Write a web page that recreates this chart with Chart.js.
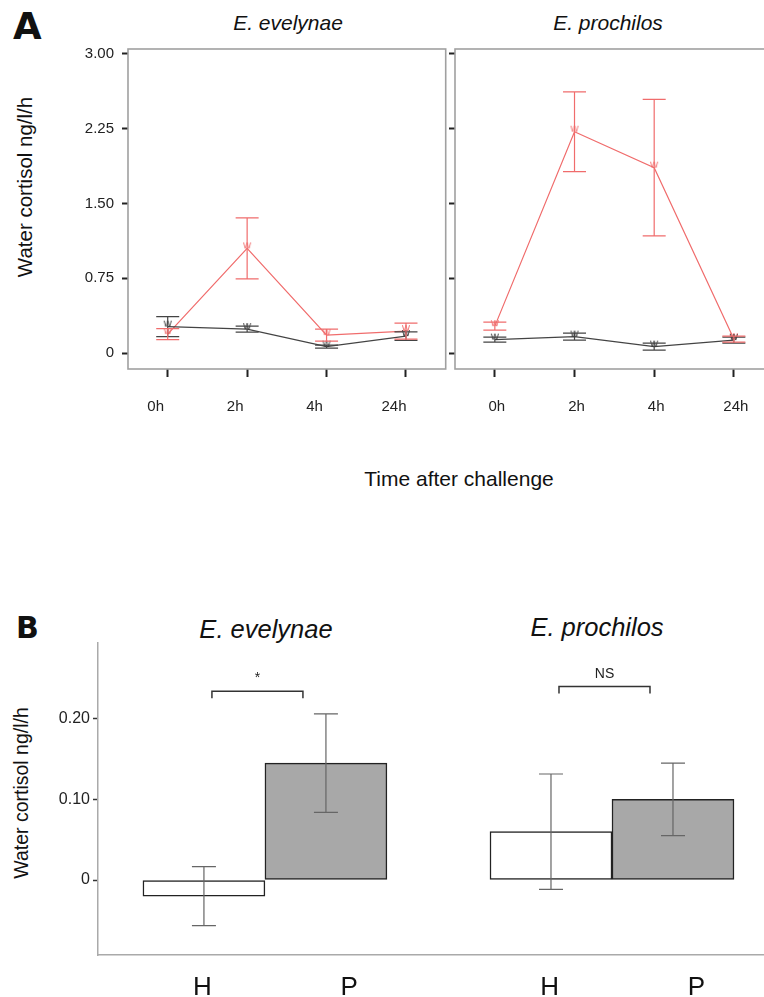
<!DOCTYPE html>
<html>
<head>
<meta charset="utf-8">
<script src="https://cdn.jsdelivr.net/npm/chart.js@4.4.0/dist/chart.umd.min.js"></script>
<style>
  body { margin: 0; width: 764px; height: 997px; overflow: hidden; background: #fff; position: relative;
         font-family: "Liberation Sans", Arial, sans-serif; color: #111; }
  canvas { position: absolute; }
  .txt { position: absolute; white-space: nowrap; line-height: 1; transform: translate(-50%, -50%); }
  .it { font-style: italic; }
  .tag { position: absolute; font-family: "DejaVu Sans", sans-serif; font-weight: bold; line-height: 1; }
</style>
</head>
<body>
<div class="tag" style="left:13px;top:8px;font-size:37px;">A</div>
<div class="txt it" style="left:288px;top:22px;font-size:21px;">E. evelynae</div>
<div class="txt it" style="left:608px;top:22px;font-size:21px;">E. prochilos</div>
<div class="txt" style="left:25px;top:187px;font-size:20.5px;transform:translate(-50%,-50%) rotate(-90deg);">Water cortisol ng/l/h</div>
<div class="txt" style="left:459px;top:478px;font-size:21px;">Time after challenge</div>

<div class="tag" style="left:16px;top:613px;font-size:30px;">B</div>
<div class="txt it" style="left:266px;top:630px;font-size:25.5px;">E. evelynae</div>
<div class="txt it" style="left:597px;top:628px;font-size:25.5px;">E. prochilos</div>
<div class="txt" style="left:22px;top:793px;font-size:19.5px;transform:translate(-50%,-50%) rotate(-90deg);">Water cortisol ng/l/h</div>

<canvas id="evelynaeTime" width="451" height="430" style="left:0;top:0;"></canvas>
<canvas id="prochilosTime" width="330" height="430" style="left:449px;top:0;"></canvas>
<canvas id="groupBars" width="764" height="397" style="left:0;top:600px;"></canvas>

<script>
// panel A: time course, red = parasitized, black = healthy
const timeLabels = ['0h', '2h', '4h', '24h'];
const timeTicks = [0, 0.75, 1.5, 2.25, 3];

const evelynaeRed = [0.19, 1.05, 0.18, 0.22];
const evelynaeRedErr = [0.055, 0.305, 0.06, 0.08];
const evelynaeBlack = [0.265, 0.24, 0.065, 0.17];
const evelynaeBlackErr = [0.10, 0.03, 0.015, 0.042];

const prochilosRed = [0.27, 2.22, 1.86, 0.14];
const prochilosRedErr = [0.04, 0.40, 0.685, 0.03];
const prochilosBlack = [0.135, 0.165, 0.065, 0.13];
const prochilosBlackErr = [0.025, 0.035, 0.035, 0.03];

// panel B: bars, H = healthy, P = parasitized
const barGroups = [1, 2];
const barLabels = ['H', 'P', 'H', 'P'];
const healthyMean = [-0.020, 0.060];
const healthyErr = [0.0365, 0.0715];
const parasitMean = [0.145, 0.100];
const parasitErr = [0.061, 0.045];
const barTicks = [0, 0.10, 0.20];
const sigLabels = ['*', 'NS'];
const sigHeights = [0.234, 0.240];

Chart.defaults.font.family = '"Liberation Sans", Arial, sans-serif';
Chart.defaults.color = '#222';
Chart.defaults.animation = false;

const RED = 'rgb(240,108,108)';
const DARK = '#444';

function wGlyph(color) {
  const c = document.createElement('canvas');
  c.width = 12; c.height = 14;
  const g = c.getContext('2d');
  g.fillStyle = color;
  g.font = '11px "Liberation Sans", Arial, sans-serif';
  g.textAlign = 'center';
  g.fillText('w', 6, 7);
  return c;
}

function valueOf(d) {
  return (d !== null && typeof d === 'object') ? d.y : d;
}

const errorBars = {
  id: 'errorBars',
  afterDatasetsDraw(chart) {
    const ctx = chart.ctx;
    const y = chart.scales.y;
    chart.data.datasets.forEach((ds, i) => {
      if (!ds.errorBars) return;
      const meta = chart.getDatasetMeta(i);
      const half = ds.capWidth / 2;
      ctx.save();
      ctx.strokeStyle = ds.errorColor || ds.borderColor;
      ctx.lineWidth = 1.2;
      meta.data.forEach((el, j) => {
        const v = valueOf(ds.data[j]);
        const top = y.getPixelForValue(v + ds.errorBars[j]);
        const bot = y.getPixelForValue(v - ds.errorBars[j]);
        ctx.beginPath();
        ctx.moveTo(el.x, top); ctx.lineTo(el.x, bot);
        ctx.moveTo(el.x - half, top); ctx.lineTo(el.x + half, top);
        ctx.moveTo(el.x - half, bot); ctx.lineTo(el.x + half, bot);
        ctx.stroke();
      });
      ctx.restore();
    });
  }
};

const frame = {
  id: 'frame',
  beforeDatasetsDraw(chart) {
    const a = chart.chartArea;
    const ctx = chart.ctx;
    ctx.save();
    ctx.strokeStyle = '#a0a0a0';
    ctx.lineWidth = 1.6;
    ctx.strokeRect(a.left, a.top, a.right - a.left, a.bottom - a.top);
    ctx.restore();
  }
};

function timeChart(id, red, redErr, black, blackErr, showY, axisWidth, labelShift, padRight) {
  return new Chart(document.getElementById(id), {
    type: 'line',
    data: {
      labels: timeLabels,
      datasets: [
        { data: black, errorBars: blackErr, capWidth: 23, borderColor: DARK, borderWidth: 1.3,
          pointStyle: wGlyph('#333'), pointRadius: 3 },
        { data: red, errorBars: redErr, capWidth: 23, borderColor: RED, borderWidth: 1.2,
          pointStyle: wGlyph(RED), pointRadius: 3 },
      ],
    },
    options: {
      responsive: false,
      layout: { padding: { top: 49, right: padRight, left: 0, bottom: 0 } },
      plugins: { legend: { display: false }, tooltip: { enabled: false } },
      scales: {
        x: {
          offset: true,
          grid: { display: true, drawOnChartArea: false, tickLength: 8, tickColor: '#222', tickWidth: 2 },
          border: { display: false },
          ticks: { padding: 21, labelOffset: labelShift, font: { size: 15 }, color: '#222' },
          afterFit(s) { s.height = 61; },
        },
        y: {
          min: -0.16, max: 3.05,
          afterBuildTicks(s) { s.ticks = timeTicks.map((v) => ({ value: v })); },
          grid: { display: true, drawOnChartArea: false, tickLength: 6, tickColor: '#222', tickWidth: 2 },
          border: { display: false },
          ticks: {
            display: showY, padding: 8, font: { size: 15 }, color: '#222',
            callback: (v) => (v === 0 ? '0' : v.toFixed(2)),
          },
          afterFit(s) { s.width = axisWidth; },
        },
      },
    },
    plugins: [frame, errorBars],
  });
}

timeChart('evelynaeTime', evelynaeRed, evelynaeRedErr, evelynaeBlack, evelynaeBlackErr, true, 128, -12, 1);
timeChart('prochilosTime', prochilosRed, prochilosRedErr, prochilosBlack, prochilosBlackErr, false, 6, 2, 3);

const brackets = {
  id: 'brackets',
  afterDatasetsDraw(chart) {
    const ctx = chart.ctx;
    const y = chart.scales.y;
    const hMeta = chart.getDatasetMeta(0);
    const pMeta = chart.getDatasetMeta(1);
    ctx.save();
    ctx.strokeStyle = '#333';
    ctx.lineWidth = 1.5;
    ctx.fillStyle = '#222';
    ctx.font = '14px "Liberation Sans", Arial, sans-serif';
    ctx.textAlign = 'center';
    ctx.textBaseline = 'middle';
    sigLabels.forEach((lab, i) => {
      const x0 = hMeta.data[i].x + 8;
      const x1 = pMeta.data[i].x - 23;
      const yy = y.getPixelForValue(sigHeights[i]);
      ctx.beginPath();
      ctx.moveTo(x0, yy + 7); ctx.lineTo(x0, yy); ctx.lineTo(x1, yy); ctx.lineTo(x1, yy + 7);
      ctx.stroke();
      ctx.fillText(lab, (x0 + x1) / 2, yy - (lab === '*' ? 13 : 12));
    });
    ctx.restore();
  }
};

const labelShifts = [-0.18, 0.243];

new Chart(document.getElementById('groupBars'), {
  type: 'bar',
  data: {
    datasets: [
      { label: 'H', data: barGroups.map((g, i) => ({ x: g, y: healthyMean[i] })),
        backgroundColor: '#ffffff', borderColor: '#222', borderWidth: 1.5, borderSkipped: false,
        errorBars: healthyErr, capWidth: 24, errorColor: '#666' },
      { label: 'P', data: barGroups.map((g, i) => ({ x: g, y: parasitMean[i] })),
        backgroundColor: '#a8a8a8', borderColor: '#222', borderWidth: 1.5, borderSkipped: false,
        errorBars: parasitErr, capWidth: 24, errorColor: '#666' },
    ],
  },
  options: {
    responsive: false,
    barThickness: 122,
    layout: { padding: { top: 43, right: 0, left: 0, bottom: 0 } },
    plugins: { legend: { display: false }, tooltip: { enabled: false } },
    scales: {
      x: {
        type: 'linear',
        offset: false,
        min: 0.519, max: 2.438,
        afterBuildTicks(s) {
          s.ticks = barGroups.flatMap((g) => labelShifts.map((d) => ({ value: g + d })));
        },
        grid: { display: true, drawOnChartArea: false, drawTicks: false },
        border: { display: true, color: '#aaa', width: 1.5 },
        ticks: {
          autoSkip: false, maxRotation: 0, padding: 17, font: { size: 26 }, color: '#111',
          callback: (v, i) => barLabels[i],
        },
        afterFit(s) { s.height = 42; },
      },
      y: {
        min: -0.093, max: 0.294,
        afterBuildTicks(s) { s.ticks = barTicks.map((v) => ({ value: v })); },
        grid: { display: true, drawOnChartArea: false, tickLength: 5, tickColor: '#333', tickWidth: 1.5 },
        border: { display: true, color: '#aaa', width: 1.5 },
        ticks: {
          padding: 3, font: { size: 16 }, color: '#222',
          callback: (v) => (v === 0 ? '0' : v.toFixed(2)),
        },
        afterFit(s) { s.width = 98; },
      },
    },
  },
  plugins: [errorBars, brackets],
});
</script>
</body>
</html>
